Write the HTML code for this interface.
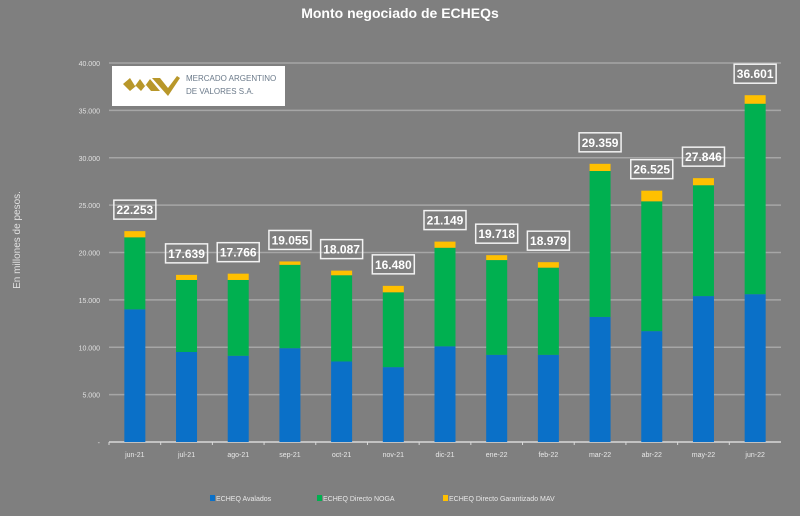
<!DOCTYPE html>
<html><head><meta charset="utf-8"><style>
body{margin:0;background:#7f7f7f;width:800px;height:511px;overflow:hidden;font-family:"Liberation Sans",sans-serif}
</style></head><body>
<svg id="chart" width="800" height="511" xmlns="http://www.w3.org/2000/svg">
<rect width="800" height="511" fill="#7f7f7f"/>
<text x="400" y="18" text-anchor="middle" fill="#fff" font-size="14" font-weight="bold">Monto negociado de ECHEQs</text>
<text transform="translate(20,240) rotate(-90)" text-anchor="middle" fill="#e0e0e0" font-size="10">En millones de pesos.</text>
<g id="grid"></g><g id="bars"></g><g id="labels"></g>
<g>
<rect x="112" y="66" width="173" height="40" fill="#fff"/>
<polygon points="123,84 130,78 135,86 140,79 145,86 150,79 160,91 151,91 146,85 141,91 136,86 130,91" fill="#b8972a"/>
<polygon points="152,78 160,78 168,88 177,76 180,78 168,96" fill="#b8972a"/>
<text x="186" y="81" fill="#6b7a8a" font-size="8">MERCADO ARGENTINO</text>
<text x="186" y="94" fill="#6b7a8a" font-size="8">DE VALORES S.A.</text>
</g>
<g>
<rect x="210" y="495" width="5" height="6" fill="#0a70c8"/>
<text x="216" y="501" fill="#e8e8e8" font-size="7">ECHEQ Avalados</text>
<rect x="317" y="495" width="5" height="6" fill="#00b050"/>
<text x="323" y="501" fill="#e8e8e8" font-size="7">ECHEQ Directo NOGA</text>
<rect x="443" y="495" width="5" height="6" fill="#ffc000"/>
<text x="449" y="501" fill="#e8e8e8" font-size="7">ECHEQ Directo Garantizado MAV</text>
</g>
</svg>
<script>
const categories=["jun-21","jul-21","ago-21","sep-21","oct-21","nov-21","dic-21","ene-22","feb-22","mar-22","abr-22","may-22","jun-22"];
const avalados=[14000,9500,9100,9900,8500,7900,10100,9200,9200,13200,11700,15400,15600];
const noga=[7600,7600,8000,8800,9100,7900,10400,10000,9200,15400,13700,11700,20100];
const totals=[22253,17639,17766,19055,18087,16480,21149,19718,18979,29359,26525,27846,36601];
const yTicks=[0,5000,10000,15000,20000,25000,30000,35000,40000];
const NS="http://www.w3.org/2000/svg";
const x0=109,x1=781,y0=442,yTop=63,yMax=40000;
const step=(x1-x0)/categories.length;
const y=v=>y0-(v/yMax)*(y0-yTop);
const xc=i=>x0+step*(i+0.5);
function mk(t,a,p){const e=document.createElementNS(NS,t);for(const k in a)e.setAttribute(k,a[k]);p.appendChild(e);return e;}
const fmt=v=>v===0?"-":v.toLocaleString("de-DE");
const grid=document.getElementById("grid"),bars=document.getElementById("bars"),labels=document.getElementById("labels");
yTicks.forEach(v=>{
 if(v>0){const l=mk("line",{x1:x0,x2:x1,y1:y(v),y2:y(v),stroke:"#a6a6a6","stroke-width":1.5},grid);
 
 }
 const t=mk("text",{x:100,y:y(v)+3,"text-anchor":"end",fill:"#e0e0e0","font-size":7},grid);
 t.textContent=fmt(v);
 
 
});
const ax=mk("line",{x1:x0,x2:x1,y1:y0,y2:y0,stroke:"#d9d9d9","stroke-width":1.5},grid);


const bw=21;
categories.forEach((c,i)=>{
 const cx=xc(i),a=avalados[i],n=noga[i],tot=totals[i];
 const b1=mk("rect",{x:cx-bw/2,y:y(a),width:bw,height:y0-y(a),fill:"#0a70c8"},bars);
 
 
 const b2=mk("rect",{x:cx-bw/2,y:y(a+n),width:bw,height:y(a)-y(a+n),fill:"#00b050"},bars);
 
 
 const b3=mk("rect",{x:cx-bw/2,y:y(tot),width:bw,height:y(a+n)-y(tot),fill:"#ffc000"},bars);
 
 
 const tk=mk("line",{x1:x0+step*i,x2:x0+step*i,y1:y0,y2:y0+3,stroke:"#d9d9d9"},grid);
 
 
 const xl=mk("text",{x:cx,y:y0+15,"text-anchor":"middle",fill:"#e8e8e8","font-size":7},labels);
 xl.textContent=c;
 
 
 const by=y(tot)-14;
 const box=mk("rect",{x:cx-21,y:by-17,width:42,height:19,fill:"none",stroke:"#f2f2f2","stroke-width":1.5},labels);
 
 
 const tl=mk("text",{x:cx,y:by-3,"text-anchor":"middle",fill:"#fff","font-size":12,"font-weight":"bold"},labels);
 tl.textContent=fmt(tot);
 
 
});
</script>
</body></html>
